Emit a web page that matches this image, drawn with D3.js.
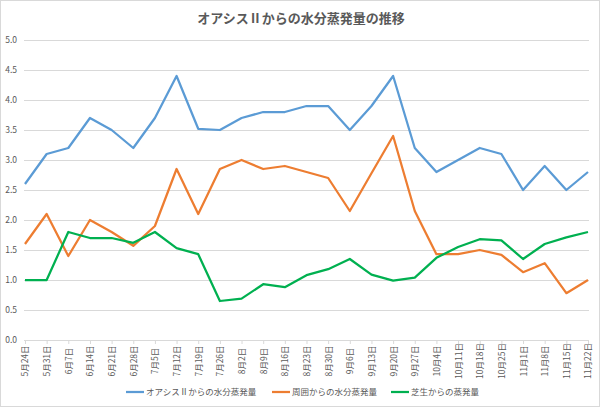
<!DOCTYPE html>
<html>
<head>
<meta charset="utf-8">
<script src="https://cdn.jsdelivr.net/npm/d3@7"></script>
<style>
  body { margin: 0; background: #fff; }
  svg text { font-family: "Noto Sans CJK JP", "Noto Sans", sans-serif; }
</style>
</head>
<body>
<div id="chart"></div>
<script>
const dates = ['5月24日','5月31日','6月7日','6月14日','6月21日','6月28日','7月5日','7月12日','7月19日','7月26日',
  '8月2日','8月9日','8月16日','8月23日','8月30日','9月6日','9月13日','9月20日','9月27日',
  '10月4日','10月11日','10月18日','10月25日','11月1日','11月8日','11月15日','11月22日']
const oasis = [2.6,3.1,3.2,3.7,3.5,3.2,3.7,4.4,3.52,3.5,3.7,3.8,3.8,3.9,3.9,3.5,3.9,4.4,3.2,2.8,3.0,3.2,3.1,2.5,2.9,2.5,2.8]
const around = [1.6,2.1,1.4,2.0,1.8,1.57,1.9,2.85,2.1,2.85,3.0,2.85,2.9,2.8,2.7,2.15,2.78,3.4,2.15,1.43,1.43,1.5,1.42,1.13,1.28,0.78,1.0]
const grass = [1.0,1.0,1.8,1.7,1.7,1.62,1.8,1.53,1.43,0.65,0.69,0.93,0.88,1.08,1.18,1.35,1.09,0.99,1.04,1.37,1.55,1.68,1.66,1.35,1.6,1.71,1.8]
const yTicks = [0,0.5,1,1.5,2,2.5,3,3.5,4,4.5,5]
const seriesNames = ['オアシスⅡからの水分蒸発量','周囲からの水分蒸発量','芝生からの蒸発量']
const colors = ['#5B9BD5','#ED7D31','#00B050']
const title = 'オアシスⅡからの水分蒸発量の推移'

class LineChart {
  constructor(container, width = 600, height = 407) {
    this.container = container
    this.width = width
    this.height = height
    this.series = [oasis, around, grass]
  }
  draw () {
    let svg = d3.select(this.container)
                .append('svg')
                .attr('width', this.width)
                .attr('height', this.height)
    this.svg = svg
    svg.append('rect')
      .attr('x', 0.5).attr('y', 0.5)
      .attr('width', this.width - 1).attr('height', this.height - 1)
      .attr('fill', '#fff').attr('stroke', '#d9d9d9')

    svg.append('text')
      .attr('x', 301).attr('y', 23)
      .attr('text-anchor', 'middle')
      .style('font-size', '13px').style('font-weight', 'bold')
      .style('fill', '#595959')
      .text(title)

    this.x = d3.scalePoint().domain(dates).range([25, 588])
    this.y = d3.scaleLinear().domain([0, 5]).range([340, 40])
    this.drawAxes()
    this.drawLines()
    this.drawLegend()
  }
  drawAxes () {
    let svg = this.svg, x = this.x, y = this.y
    // horizontal grid + y labels
    let gy = svg.append('g')
      .attr('transform', 'translate(24,0)')
      .call(d3.axisLeft(y).tickValues(yTicks).tickFormat(d3.format('.1f')).tickSize(-565).tickPadding(7))
    gy.select('.domain').remove()
    gy.selectAll('line').attr('stroke', '#d9d9d9')
    gy.selectAll('text').style('font-size', '8.5px').style('fill', '#595959')

    let gx = svg.append('g')
      .attr('transform', 'translate(0,340)')
      .call(d3.axisBottom(x).tickSize(4).tickSizeOuter(0))
    gx.select('.domain').attr('stroke', '#d9d9d9').attr('d', 'M24,0.5H589')
    gx.selectAll('line').attr('stroke', '#d9d9d9')
    gx.selectAll('text')
      .style('font-size', '8.5px').style('fill', '#595959')
      .attr('text-anchor', 'middle')
      .attr('dy', '0.35em')
      .attr('transform', 'translate(0,21) rotate(-90)')
      .attr('x', 0).attr('y', 0)
  }
  drawLines () {
    let x = this.x, y = this.y
    let line = d3.line()
      .x((d, i) => x(dates[i]))
      .y(d => y(d))
    this.svg.selectAll('path.series')
      .data(this.series)
      .enter()
      .append('path')
      .attr('class', 'series')
      .attr('d', d => line(d))
      .attr('fill', 'none')
      .attr('stroke', (d, i) => colors[i])
      .attr('stroke-width', 2.25)
      .attr('stroke-linejoin', 'round')
  }
  drawLegend () {
    let starts = [126, 272, 391]
    let lg = this.svg.append('g')
    seriesNames.forEach((name, i) => {
      lg.append('line')
        .attr('x1', starts[i]).attr('x2', starts[i] + 18)
        .attr('y1', 392).attr('y2', 392)
        .attr('stroke', colors[i]).attr('stroke-width', 2.25)
      lg.append('text')
        .attr('x', starts[i] + 20).attr('y', 395)
        .style('font-size', '8.5px').style('fill', '#595959')
        .text(name)
    })
  }
}

new LineChart('#chart').draw()
</script>
</body>
</html>
